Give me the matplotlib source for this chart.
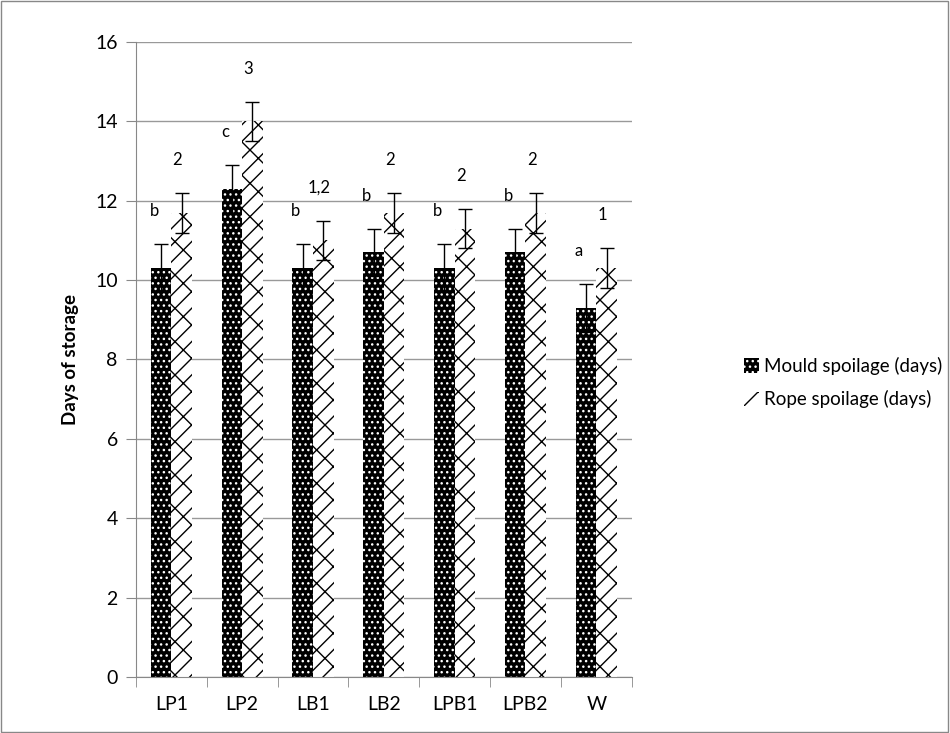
import numpy as np
import matplotlib.pyplot as plt
from matplotlib.patches import Rectangle

plt.rcParams['font.family'] = ['Lato', 'DejaVu Sans']
plt.rcParams['hatch.linewidth'] = 1.0

categories = ['LP1', 'LP2', 'LB1', 'LB2', 'LPB1', 'LPB2', 'W']
mould = [10.3, 12.3, 10.3, 10.7, 10.3, 10.7, 9.3]
rope = [11.7, 14.0, 11.0, 11.7, 11.3, 11.7, 10.3]
mould_err = [0.6, 0.6, 0.6, 0.6, 0.6, 0.6, 0.6]
rope_err = [0.5, 0.5, 0.5, 0.5, 0.5, 0.5, 0.5]
mould_letters = ['b', 'c', 'b', 'b', 'b', 'b', 'a']
rope_letters = ['2', '3', '1,2', '2', '2', '2', '1']

fig = plt.figure(figsize=(9.5, 7.33), dpi=100)
ax = fig.add_axes([0.143, 0.0764, 0.522, 0.8663])

x = np.arange(len(categories))
w = 0.29
b1 = ax.bar(x - w / 2, mould, w, color='black', edgecolor='white', hatch='...',
            linewidth=0, label='Mould spoilage (days)', zorder=2)
b2 = ax.bar(x + w / 2, rope, w, color='white', edgecolor='black', hatch='/x',
            linewidth=0, label='Rope spoilage (days)', zorder=2)
ax.errorbar(x - w / 2, mould, yerr=mould_err, fmt='none', ecolor='black',
            elinewidth=1, capsize=5, capthick=1, zorder=3)
ax.errorbar(x + w / 2, rope, yerr=rope_err, fmt='none', ecolor='black',
            elinewidth=1, capsize=5, capthick=1, zorder=3)

for i in range(len(categories)):
    ax.annotate(mould_letters[i], (x[i] - w / 2, mould[i] + mould_err[i]),
                xytext=(-5, 18), textcoords='offset points', ha='center',
                va='bottom', fontsize=12)
    ax.annotate(rope_letters[i], (x[i] + w / 2, rope[i] + rope_err[i]),
                xytext=(-3, 18), textcoords='offset points', ha='center',
                va='bottom', fontsize=12)

ax.set_xlim(-0.5, len(categories) - 0.5)
ax.set_ylim(0, 16)
ax.set_yticks(range(0, 17, 2))
ax.set_xticks(x)
ax.set_xticklabels(categories)
ax.set_xticks(np.arange(-0.5, len(categories), 1), minor=True)
ax.tick_params(axis='x', which='major', length=0, pad=14, labelsize=14)
ax.tick_params(axis='x', which='minor', length=7, color='#888888')
ax.tick_params(axis='y', length=7, color='#888888', labelsize=14, pad=6)
ax.grid(axis='y', color='#999999', linewidth=1, zorder=0)
ax.set_axisbelow(True)
for s in ['top', 'right']:
    ax.spines[s].set_visible(False)
for s in ['left', 'bottom']:
    ax.spines[s].set_color('#888888')
ax.set_ylabel('Days of storage', fontsize=13.5, fontweight='bold', labelpad=12)

fig.legend(handles=[b1, b2], loc='center left', bbox_to_anchor=(0.765, 0.478),
           frameon=False, fontsize=13.5, handlelength=0.8, handleheight=0.8,
           handletextpad=0.3, labelspacing=0.8)

fig.patches.append(Rectangle((0.001, 0.001), 0.997, 0.997, transform=fig.transFigure,
                             fill=False, edgecolor='#888888', linewidth=1))

plt.savefig('out.png', dpi=100)
